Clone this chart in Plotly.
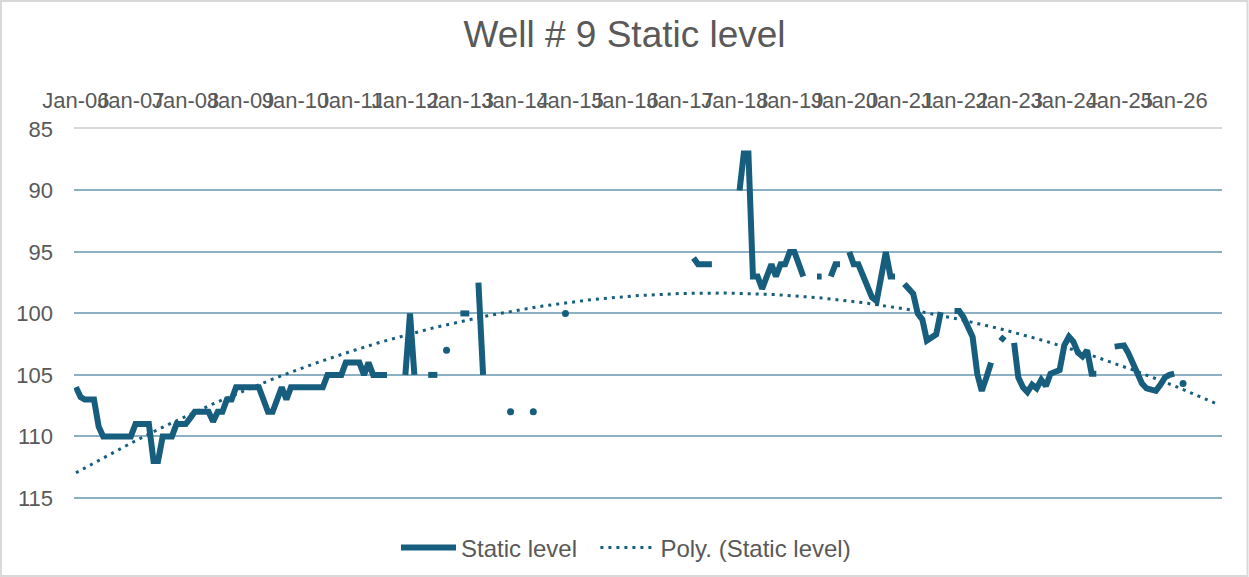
import numpy as np
import pandas as pd
import plotly.graph_objects as go

# ---- data (monthly readings from Jan 2006; None = no reading) ----
start_month = "2006-01-01"
static_level = [
    106, 106.8, 107, 107, 107, 109.2, 110, 110, 110, 110, 110, 110,            # 2006
    110, 109, 109, 109, 109, 112, 112, 110, 110, 110, 109, 109,                # 2007
    109, 108.5, 108, 108, 108, 108, 108.8, 108, 108, 107, 107, 106,            # 2008
    106, 106, 106, 106, 106, 107, 108, 108, 107, 106, 107, 106,                # 2009
    106, 106, 106, 106, 106, 106, 106, 105, 105, 105, 105, 104,                # 2010
    104, 104, 104, 105, 104, 105, 105, 105, 105, None, None, None,             # 2011
    105, 100, 105, None, None, 105, 105, 105, None, 103, None, None,           # 2012
    100, 100, 100, None, 97.5, 105, None, None, None, None, None, 108,         # 2013
    None, None, None, None, 108, None, None, None, None, None, None, 100,      # 2014
    None, None, None, None, None, None, None, None, None, None, None, None,    # 2015
    None, None, None, None, None, None, None, None, None, None, None, None,    # 2016
    None, None, None, 95.5, 96, 96, 96, 96, None, None, None, None,           # 2017
    None, 90, 87, 87, 97, 97, 98, 97, 96, 97, 96, 96,                         # 2018
    95, 95, 96, 97, None, None, 97, 97, None, 97, 96, 96,                     # 2019
    None, 95, 96, 96, 97, 98, 98.7, 99, 97, 95, 97, 97,                       # 2020
    None, 97.6, 98.0, 98.4, 100, 100.5, 102.2, 102.0, 101.7, 99.9, None, None,  # 2021
    99.8, 99.8, 100.3, 101.2, 101.9, 104.9, 106.3, 105.2, 104, None, 101.9, 102.2,  # 2022
    None, 102.4, 105.2, 106.0, 106.4, 105.8, 106.1, 105.4, 105.9, 104.9, 104.7, 104.6,  # 2023
    102.6, 101.9, 102.3, 103.2, 103.5, 103.0, 104.9, 104.9, None, None, None, 102.7,  # 2024
    102.6, 102.6, 103.2, 104.0, 104.8, 105.7, 106.1, 106.2, 106.3, 105.8, 105.2, 105.0,  # 2025
    104.9, None, 105.7,                                                        # 2026
]
series_name = "Static level"
trend_name = "Poly. (Static level)"
trend_order = 2
trend_months = 250
title_text = "Well # 9 Static level"

# ---- derived ----
dates = pd.date_range(start_month, periods=len(static_level), freq="MS")
idx = np.array([i for i, v in enumerate(static_level) if v is not None], dtype=float)
vals = np.array([v for v in static_level if v is not None], dtype=float)
coef = np.polyfit(idx, vals, trend_order)
t_idx = np.arange(trend_months)
t_dates = pd.date_range(start_month, periods=trend_months, freq="MS")
t_vals = np.polyval(coef, t_idx)

iso_x, iso_y = [], []
n = len(static_level)
for i, v in enumerate(static_level):
    if v is None:
        continue
    prev_none = i == 0 or static_level[i - 1] is None
    next_none = i == n - 1 or static_level[i + 1] is None
    if prev_none and next_none:
        iso_x.append(dates[i])
        iso_y.append(v)

LINE = "#175E7E"
GRID = "#8DB1C3"
TEXT = "#595959"
FONT = "Liberation Sans, Arial, sans-serif"

PLOT_TOP, PLOT_BOTTOM = 129, 504  # pixel rows of the plot area

fig = go.Figure()
fig.add_trace(go.Scatter(
    x=dates, y=static_level, mode="lines",
    name=series_name + "\u00a0\u00a0",  # extra gap between legend entries
    line=dict(color=LINE, width=6), connectgaps=False,
))
fig.add_trace(go.Scatter(
    x=iso_x, y=iso_y, mode="markers", showlegend=False, hoverinfo="skip",
    marker=dict(color=LINE, size=7),
))
fig.add_trace(go.Scatter(
    x=t_dates, y=t_vals, mode="lines", name=trend_name,
    line=dict(color=LINE, width=3, dash="3px,5px"),
))

ph = PLOT_BOTTOM - PLOT_TOP
fig.update_layout(
    width=1249, height=577,
    margin=dict(l=74, r=27, t=PLOT_TOP, b=577 - PLOT_BOTTOM, autoexpand=False),
    paper_bgcolor="white", plot_bgcolor="white",
    font=dict(family=FONT, color=TEXT, size=22),
    title=dict(text=title_text, x=0.5, xanchor="center", y=1 - 34 / 577,
               yanchor="middle", font=dict(size=37, color=TEXT, family=FONT)),
    showlegend=True,
    legend=dict(orientation="h", x=(396 - 74) / 1148, xanchor="left",
                y=(PLOT_BOTTOM - 548) / ph, yanchor="middle",
                font=dict(size=24, color=TEXT, family=FONT),
                itemwidth=55, bgcolor="rgba(0,0,0,0)"),
    xaxis=dict(
        type="date", side="top",
        range=["2005-12-19", "2026-11-15"],
        tick0="2006-01-01", dtick="M12", tickformat="%b-%y",
        tickangle=0, showgrid=False, zeroline=False,
        showline=True, linecolor="#D9D9D9", linewidth=2,
        ticks="", ticklabelstandoff=10,
        tickfont=dict(size=22, color=TEXT, family=FONT),
    ),
    yaxis=dict(
        range=[115.5, 85], tick0=85, dtick=5,
        showgrid=True, gridcolor=GRID, gridwidth=2,
        zeroline=False, showline=False, ticks="",
        ticklabelstandoff=20,
        tickfont=dict(size=22, color=TEXT, family=FONT),
    ),
    shapes=[dict(
        type="rect", xref="paper", yref="paper",
        x0=(1 - 74) / 1148, x1=(1247.5 - 74) / 1148,
        y0=(PLOT_BOTTOM - 576) / ph, y1=(PLOT_BOTTOM - 1) / ph,
        line=dict(color="#D9D9D9", width=2), fillcolor="rgba(0,0,0,0)",
        layer="below",
    )],
)

fig.write_html("out.html", config={"displayModeBar": False},
               post_script="document.body.style.margin='0';")
